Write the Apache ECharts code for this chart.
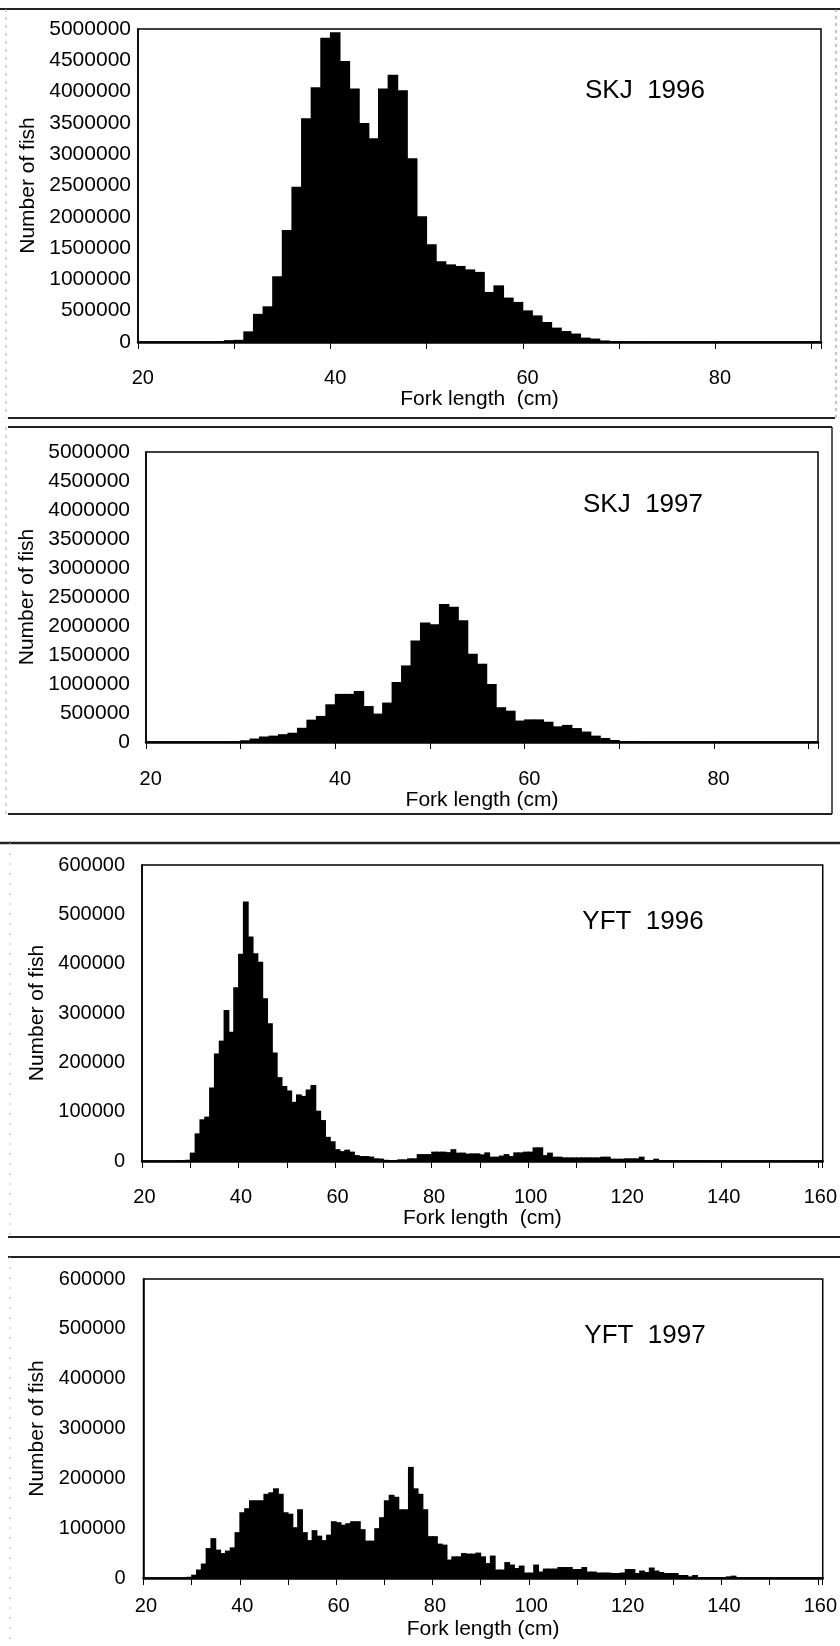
<!DOCTYPE html>
<html>
<head>
<meta charset="utf-8">
<script src="https://cdn.jsdelivr.net/npm/echarts@6/dist/echarts.min.js"></script>
<style>
html,body{margin:0;padding:0;background:#fff;}
#c{width:840px;height:1646px;}
</style>
</head>
<body>
<div id="c"></div>
<script>
// ---- categories (fork length classes, cm) ----
const skjLengths = ["20","21","22","23","24","25","26","27","28","29","30","31","32","33","34","35","36","37","38","39","40","41","42","43","44","45","46","47","48","49","50","51","52","53","54","55","56","57","58","59","60","61","62","63","64","65","66","67","68","69","70","71","72","73","74","75","76","77","78","79","80","81","82","83","84","85","86","87","88","89","90"];
const yftLengths = ["20","21","22","23","24","25","26","27","28","29","30","31","32","33","34","35","36","37","38","39","40","41","42","43","44","45","46","47","48","49","50","51","52","53","54","55","56","57","58","59","60","61","62","63","64","65","66","67","68","69","70","71","72","73","74","75","76","77","78","79","80","81","82","83","84","85","86","87","88","89","90","91","92","93","94","95","96","97","98","99","100","101","102","103","104","105","106","107","108","109","110","111","112","113","114","115","116","117","118","119","120","121","122","123","124","125","126","127","128","129","130","131","132","133","134","135","136","137","138","139","140","141","142","143","144","145","146","147","148","149","150","151","152","153","154","155","156","157","158","159","160"];

// ---- series values (number of fish) ----
const skj1996 = [0,0,0,0,0,0,0,3000,8000,30000,35000,170000,450000,570000,1050000,1790000,2480000,3575000,4070000,4860000,4950000,4490000,4050000,3500000,3255000,4050000,4270000,4020000,2935000,2010000,1560000,1290000,1240000,1215000,1160000,1120000,800000,905000,710000,640000,505000,425000,320000,230000,175000,135000,70000,55000,25000,10000,5000,3000,2000,0,0,0,0,0,0,0,0,0,0,0,0,0,0,0,0,0,0];
const skj1997 = [0,0,0,0,0,0,0,0,0,5000,30000,60000,95000,110000,135000,160000,245000,385000,450000,650000,830000,830000,880000,620000,490000,680000,1035000,1320000,1750000,2060000,2030000,2380000,2330000,2100000,1520000,1350000,1000000,600000,540000,370000,390000,390000,350000,270000,295000,240000,180000,110000,70000,35000,15000,8000,3000,0,0,0,0,0,0,0,0,0,0,0,0,0,0,0,0,0,0];
const yft1996 = [0,0,0,0,0,0,500,1000,1500,2500,17000,56000,84500,90000,149000,218000,244000,306000,262000,352000,420000,526000,455000,421000,404000,330000,279000,220000,170000,152000,143000,120000,135000,132000,145000,154000,102000,83000,49000,40000,24000,20000,23000,19000,12000,10000,10000,9000,5500,5000,2500,2000,2000,3400,3400,5400,5400,14000,14000,14000,19000,19000,19000,18000,24000,17000,17000,15000,15500,15500,13500,17500,8800,8800,11000,14000,10000,17500,17500,19000,19000,27700,27700,12000,17000,8800,8800,7400,7400,7400,7400,7400,7400,7400,7400,8800,8800,4700,4700,4700,5400,5400,5400,8800,2000,2000,4700,1400,1400,1400,1000,1000,800,800,800,600,300,300,300,300,300,300,300,300,300,300,300,300,300,300,300,300,300,300,300,300,300,300,300,300,300];
const yft1997 = [0,0,0,0,0,0,0,0,1000,2500,6700,17000,29000,60000,80000,57000,50000,55000,61500,92000,132000,140000,156000,156000,156000,169000,172000,180000,169000,132000,129000,102000,138000,92000,76000,96000,85000,76000,87000,114000,112000,107000,110000,114000,114000,98000,75000,75000,100000,122000,156000,167000,163000,138000,138000,223000,180000,169000,138000,84000,84000,69000,67000,37000,43500,43500,50000,49000,49000,51000,43500,30000,45000,17000,17000,32000,27000,20000,25000,11000,11000,27000,13000,19000,19000,19000,22000,22000,22000,18000,18000,22000,13000,13000,11000,11000,11000,10000,10000,11000,18000,18000,10000,15000,12000,21000,15000,12000,10000,10000,10000,6000,6000,3300,6000,1300,1300,1300,1300,1300,1300,3300,4700,500,500,500,500,500,500,500,500,500,500,500,500,500,500,500,500,500,500];

// ---- texts ----
const panelTitles = ["SKJ  1996", "SKJ  1997", "YFT  1996", "YFT  1997"];
const xNames = ["Fork length  (cm)", "Fork length (cm)", "Fork length  (cm)", "Fork length (cm)"];
const yName = "Number of fish";

const FONT = '"Liberation Sans", Arial, sans-serif';

const panels = [
  {cats: skjLengths, data: skj1996, max: 5000000, step: 500000,
   grid: {left: 138, top: 29, width: 683, height: 313},
   yFont: 21, yMargin: 7, yGap: 99, xMargin: 26, xGap: 46, title: [645, 91]},
  {cats: skjLengths, data: skj1997, max: 5000000, step: 500000,
   grid: {left: 146, top: 452, width: 672, height: 290},
   yFont: 21, yMargin: 16, yGap: 108, xMargin: 27, xGap: 44, title: [643, 505]},
  {cats: yftLengths, data: yft1996, max: 600000, step: 100000,
   grid: {left: 142, top: 865, width: 681, height: 296},
   yFont: 20, yMargin: 17, yGap: 91, xMargin: 26, xGap: 47, title: [643, 922]},
  {cats: yftLengths, data: yft1997, max: 600000, step: 100000,
   grid: {left: 143.5, top: 1279, width: 679.5, height: 299},
   yFont: 20, yMargin: 18, yGap: 89, xMargin: 18, xGap: 41, title: [645, 1336]}
];

// histogram bars: each class drawn through the axis scales, touching its neighbours
function renderBin(params, api) {
  const cat = api.value(0);
  const val = api.value(1);
  const top = api.coord([cat, val]);
  const base = api.coord([cat, 0]);
  const w = api.size([1, 0])[0];
  const h = base[1] - top[1];
  if (h <= 0) return null;
  return {
    type: 'rect',
    shape: {x: top[0] - w / 2 - 0.5, y: top[1], width: w + 1, height: h},
    style: {fill: '#000'}
  };
}

const grid = [], xAxis = [], yAxis = [], series = [];
panels.forEach(function (p, i) {
  grid.push(Object.assign({show: true, borderColor: '#000', borderWidth: 1.5, backgroundColor: 'transparent'}, p.grid));
  xAxis.push({
    type: 'category', gridIndex: i, data: p.cats, boundaryGap: true,
    axisLine: {show: true, onZero: true, lineStyle: {color: '#000', width: 2.5}},
    axisTick: {show: true, interval: 9, length: 7, lineStyle: {color: '#000', width: 1}},
    axisLabel: {interval: 19, margin: p.xMargin, fontSize: 20, color: '#000', fontFamily: FONT},
    splitLine: {show: false},
    name: xNames[i], nameLocation: 'middle', nameGap: p.xGap,
    nameTextStyle: {fontSize: 21, color: '#000', fontFamily: FONT}
  });
  yAxis.push({
    type: 'value', gridIndex: i, min: 0, max: p.max, interval: p.step,
    axisLine: {show: true, lineStyle: {color: '#000', width: 1.5}},
    axisTick: {show: false}, splitLine: {show: false},
    axisLabel: {fontSize: p.yFont, color: '#000', margin: p.yMargin, fontFamily: FONT,
                formatter: function (v) { return String(v); }},
    name: yName, nameLocation: 'middle', nameGap: p.yGap, nameRotate: 90,
    nameTextStyle: {fontSize: 21, color: '#000', fontFamily: FONT}
  });
  series.push({
    type: 'custom', xAxisIndex: i, yAxisIndex: i, silent: true,
    renderItem: renderBin,
    encode: {x: 0, y: 1},
    data: p.data.map(function (v, k) { return [p.cats[k], v]; })
  });
});

function hline(y, x1, x2, w, c, dash) {
  return {type: 'line', silent: true, shape: {x1: x1, y1: y, x2: x2, y2: y},
          style: {stroke: c || '#222', lineWidth: w || 2, lineDash: dash || null}};
}
function vline(x, y1, y2, w, c, dash) {
  return {type: 'line', silent: true, shape: {x1: x, y1: y1, x2: x, y2: y2},
          style: {stroke: c || '#222', lineWidth: w || 1.5, lineDash: dash || null}};
}

const graphic = [
  hline(9, 0, 840, 2),
  hline(418, 8, 835, 2),
  hline(427, 8, 832, 2),
  hline(814, 8, 832, 2),
  hline(843, 0, 840, 2.5),
  hline(1237, 8, 840, 2),
  hline(1257, 8, 840, 2),
  vline(832, 427, 814, 1.5),
  vline(836, 9, 418, 1, '#888', [3, 4]),
  vline(6, 9, 418, 1, '#aaa', [3, 5]),
  vline(6, 427, 814, 1, '#aaa', [3, 5]),
  vline(10, 843, 1237, 1, '#bbb', [2, 8]),
  vline(10, 1257, 1646, 1, '#bbb', [2, 8])
];
panels.forEach(function (p, i) {
  graphic.push({type: 'text', silent: true, x: p.title[0], y: p.title[1],
    style: {text: panelTitles[i], fill: '#000', font: '26px ' + FONT, align: 'center', verticalAlign: 'middle'}});
});

const chart = echarts.init(document.getElementById('c'), null, {renderer: 'canvas'});
chart.setOption({
  backgroundColor: '#fff',
  animation: false,
  grid: grid, xAxis: xAxis, yAxis: yAxis, series: series,
  graphic: graphic
});
</script>
</body>
</html>
